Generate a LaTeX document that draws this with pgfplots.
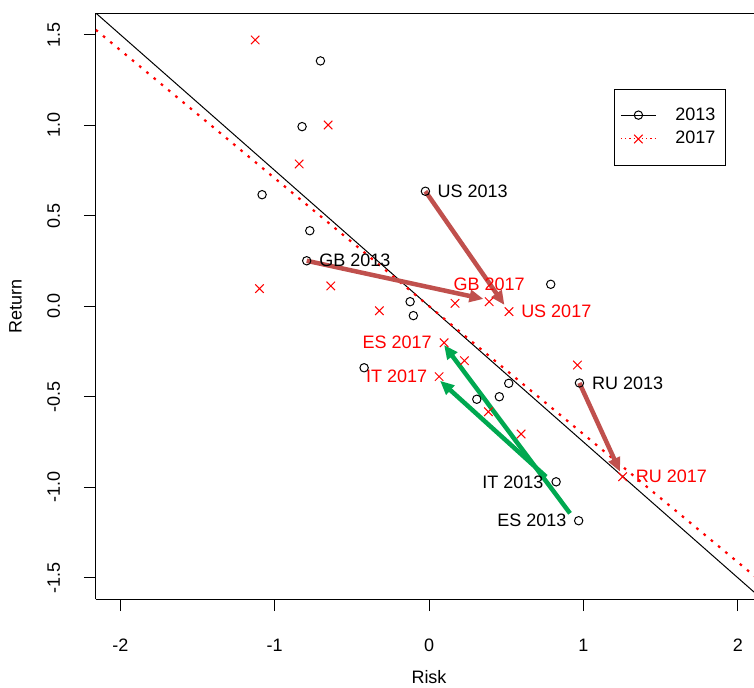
\documentclass[border=0pt]{standalone}
\usepackage{fontspec}
\setmainfont{Liberation Sans}
\usepackage{pgfplots}
\pgfplotsset{compat=1.18}
\usetikzlibrary{arrows.meta}
\definecolor{arrred}{RGB}{192,80,77}
\definecolor{arrgreen}{RGB}{0,168,80}
\newcommand{\ff}{\fontsize{18bp}{21.6bp}\selectfont}
\begin{document}
\ff
\begin{tikzpicture}
\begin{axis}[
  name=ax,
  scale only axis, width=658.3bp, height=586bp,
  xmin=-2.16, xmax=2.105, ymin=-1.619, ymax=1.618,
  axis x line*=box, axis y line*=left,
  axis line style={line width=1bp, black},
  xtick={-2,-1,0,1,2}, xticklabels={-2,-1,0,1,2},
  ytick={-1.5,-1,-0.5,0,0.5,1,1.5},
  yticklabels={-1.5,-1.0,-0.5,0.0,0.5,1.0,1.5},
  xtick pos=left, ytick pos=left,
  tick align=outside, major tick length=11.7bp,
  tick style={line width=1bp, black},
  xticklabel style={anchor=base, yshift=-40.7bp, font=\ff},
  yticklabel style={xshift=-24bp, rotate=90, anchor=base, font=\ff},
  every axis x label/.style={at={(axis description cs:0.5063,0)}, yshift=-84.5bp, anchor=base, font=\ff},
  every axis y label/.style={at={(axis description cs:0,0.5)}, xshift=-74bp, rotate=90, anchor=base, font=\ff},
  xlabel={Risk}, ylabel={Return},
  legend image code/.code={\draw[mark repeat=2,mark phase=2,#1] plot coordinates {(0bp,0bp) (17.5bp,0bp) (35bp,0bp)};},
  legend style={at={(axis description cs:0.788,0.8715)}, anchor=north west, draw=black, line width=1bp,
    inner xsep=5.5bp, inner ysep=18.4bp, row sep=8.6bp, column sep=19bp,
    nodes={inner sep=0pt, font=\ff}, cells={anchor=west}, fill=white},
]
\addlegendimage{black, line width=1bp, mark=o, mark size=4.2bp}
\addlegendentry{2013\hspace*{4.5bp}}
\addlegendimage{red, line width=1bp, dash pattern=on 1.2bp off 3bp, mark=x, mark size=6bp, mark options={solid}}
\addlegendentry{2017\hspace*{4.5bp}}

% fitted lines
\addplot[black, line width=1bp, forget plot] coordinates {(-2.3,1.725) (2.3,-1.725)};
\addplot[red, line width=2.2bp, dash pattern=on 2.6bp off 6.8bp, forget plot] coordinates {(-2.3,1.6261) (2.3,-1.6261)};

% 2013
\addplot[only marks, black, mark=o, mark size=4.2bp, mark options={line width=1bp}, forget plot] coordinates {
(-0.704,1.355) (-0.823,0.992) (-1.082,0.616) (-0.773,0.417) (-0.793,0.251)
(-0.024,0.635) (-0.123,0.025) (-0.102,-0.052) (0.788,0.121) (-0.421,-0.340)
(0.974,-0.424) (0.516,-0.426) (0.455,-0.500) (0.309,-0.514) (0.823,-0.970) (0.969,-1.185)
};
% 2017
\addplot[only marks, red, mark=x, mark size=6bp, mark options={line width=1bp}, forget plot] coordinates {
(-1.127,1.471) (-0.654,1.001) (-0.842,0.786) (-1.099,0.097) (-0.637,0.112)
(-0.322,-0.025) (0.168,0.016) (0.389,0.025) (0.518,-0.030) (0.097,-0.202)
(0.229,-0.301) (0.065,-0.389) (0.961,-0.325) (0.384,-0.583) (0.596,-0.706) (1.254,-0.942)
};

% arrows
\draw[arrred, line width=4.5bp, -{Triangle[length=14bp,width=12bp]}] (axis cs:-0.793,0.251) -- (axis cs:0.352,0.040);
\draw[arrred, line width=4.5bp, -{Triangle[length=14bp,width=12bp]}] (axis cs:-0.024,0.635) -- (axis cs:0.488,0.007);
\draw[arrred, line width=4.5bp, -{Triangle[length=14bp,width=12bp]}] (axis cs:0.974,-0.424) -- (axis cs:1.237,-0.914);
\draw[arrgreen, line width=4.5bp, -{Triangle[length=14bp,width=12bp]}] (axis cs:0.913,-1.144) -- (axis cs:0.097,-0.214);
\draw[arrgreen, line width=4.5bp, -{Triangle[length=14bp,width=12bp]}] (axis cs:0.758,-0.942) -- (axis cs:0.071,-0.412);

% labels
\node[anchor=west, inner sep=0pt, xshift=12bp, font=\ff] at (axis cs:-0.024,0.635) {US 2013};
\node[anchor=west, inner sep=0pt, xshift=12.5bp, font=\ff] at (axis cs:-0.793,0.251) {GB 2013};
\node[anchor=west, inner sep=0pt, xshift=12.5bp, font=\ff] at (axis cs:0.974,-0.424) {RU 2013};
\node[anchor=east, inner sep=0pt, xshift=-12.5bp, font=\ff] at (axis cs:0.823,-0.970) {IT 2013};
\node[anchor=east, inner sep=0pt, xshift=-12bp, font=\ff] at (axis cs:0.969,-1.185) {ES 2013};
\node[anchor=south, inner sep=0pt, yshift=11bp, red, font=\ff] at (axis cs:0.389,0.025) {GB 2017};
\node[anchor=west, inner sep=0pt, xshift=12bp, red, font=\ff] at (axis cs:0.518,-0.030) {US 2017};
\node[anchor=east, inner sep=0pt, xshift=-12.3bp, red, font=\ff] at (axis cs:0.097,-0.202) {ES 2017};
\node[anchor=east, inner sep=0pt, xshift=-11.7bp, red, font=\ff] at (axis cs:0.065,-0.389) {IT 2017};
\node[anchor=west, inner sep=0pt, xshift=13bp, red, font=\ff] at (axis cs:1.254,-0.942) {RU 2017};
\end{axis}
\pgfresetboundingbox
\useasboundingbox ([xshift=-95.7bp,yshift=-88.7bp]ax.south west) rectangle ([yshift=13.3bp]ax.north east);
\end{tikzpicture}
\end{document}
